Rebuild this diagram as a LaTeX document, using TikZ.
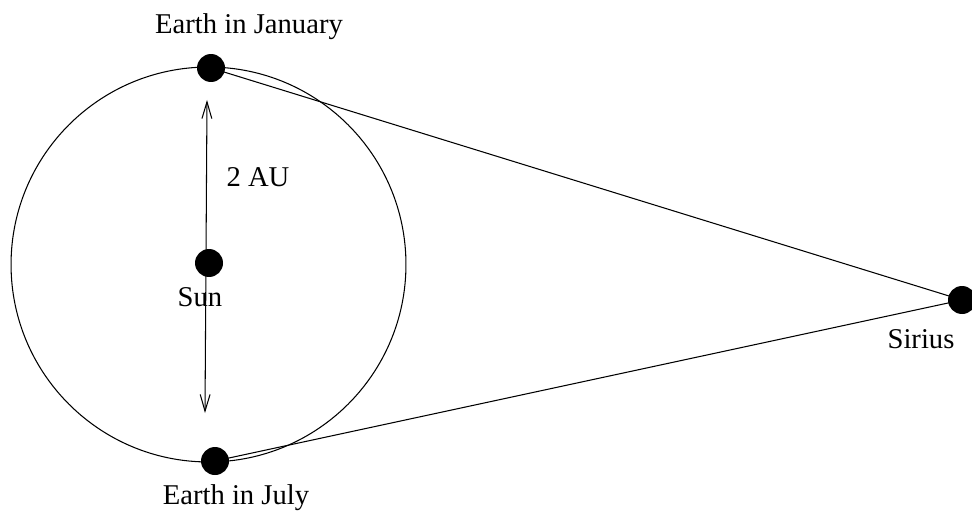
\documentclass[tikz,border=0pt]{standalone}
\usepackage{fontspec}
\setmainfont{Liberation Serif}
\usetikzlibrary{arrows.meta}

\begin{document}
\begin{tikzpicture}[
    x=0.02cm, y=-0.02cm,
    font=\fontsize{16.3}{19}\selectfont,
    body/.style={circle, fill=black, inner sep=0pt, minimum size=0.56cm},
    label/.style={anchor=base, inner sep=0pt},
    thinline/.style={draw=black, line width=0.6pt},
]
\useasboundingbox (0,0) rectangle (972,513);

% ===== Orbit =====
\draw[thinline] (208.5,264.5) circle[radius=3.95cm];

% ===== Bodies =====
\node[body] (sun) at (209,263) {};
\node[body] (jan) at (211,68) {};
\node[body] (jul) at (215,461) {};
\node[body] (sirius) at (962,300) {};

% ===== Sight lines to Sirius =====
\draw[thinline] (jan.center) -- (sirius.center);
\draw[thinline] (jul.center) -- (sirius.center);

% ===== Baseline arrow =====
\coordinate (autop) at (207,100);
\coordinate (aubot) at (205,413);
\draw[thinline, {Straight Barb[length=9.5pt, width=5.6pt]}-{Straight Barb[length=9.5pt, width=5.6pt]}]
    (autop) -- (aubot);

% ===== Labels =====
\node[label] (janlbl) at (249,34) {Earth in January};
\node[label] (jullbl) at (236,504) {Earth in July};
\node[label] (sunlbl) at (200,306) {Sun};
\node[label] (siriuslbl) at (921,348) {Sirius};
\node[label] (aulbl) at (258,186) {2 AU};

\end{tikzpicture}
\end{document}
